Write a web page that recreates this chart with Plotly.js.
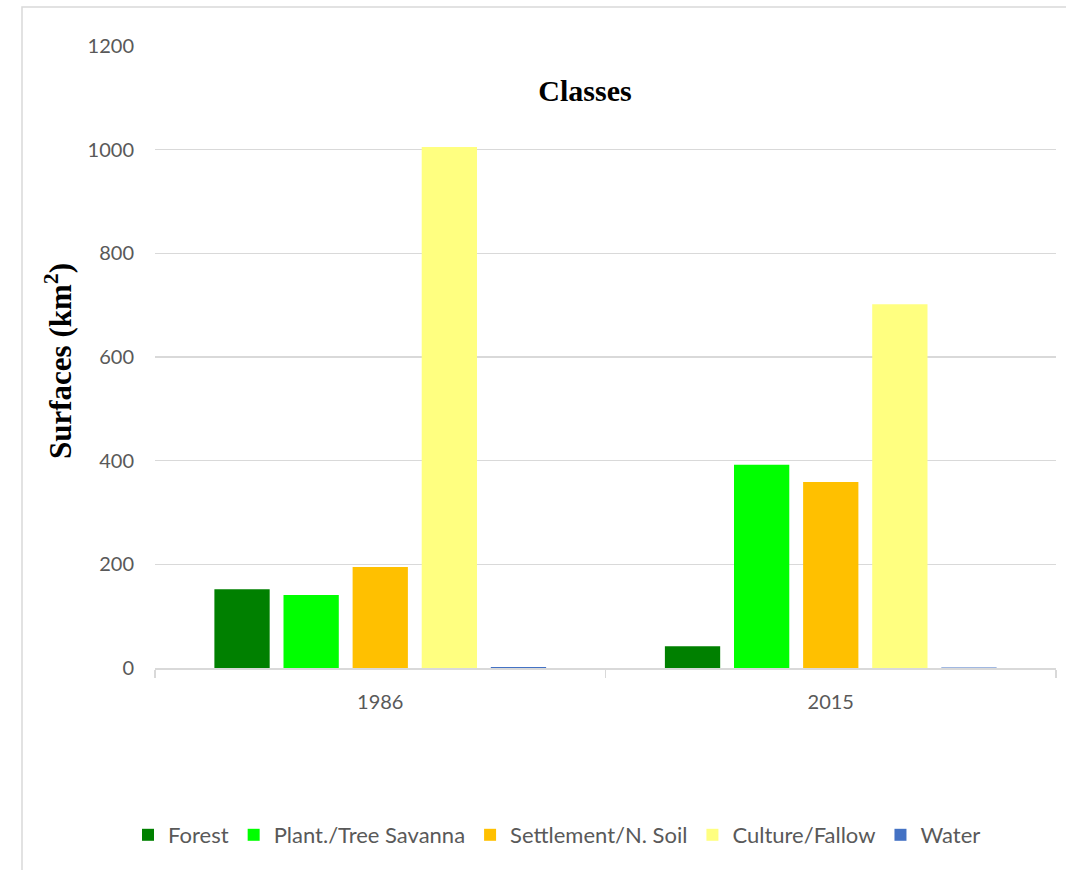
<!DOCTYPE html>
<html>
<head>
<meta charset="utf-8">
<script src="https://cdn.plot.ly/plotly-3.0.1.min.js"></script>
<style>
  html, body { margin: 0; padding: 0; background: #ffffff; }
  #chart { width: 1066px; height: 870px; }
</style>
</head>
<body>
<div id="chart"></div>
<script>
// ---- data ----
const years = ["1986", "2015"];
const seriesNames = ["Forest", "Plant./Tree Savanna", "Settlement/N. Soil", "Culture/Fallow", "Water"];
const forest = [152, 42];
const plantSavanna = [141, 392];
const settlement = [195, 359];
const culture = [1005, 702];
const water = [2, 1];
const seriesColors = ["#008000", "#00ff00", "#ffc000", "#ffff80", "#4472c4"];
const yTicks = [0, 200, 400, 600, 800, 1000, 1200];

const seriesValues = [forest, plantSavanna, settlement, culture, water];

const traces = seriesNames.map((name, i) => ({
  type: "bar",
  name: name,
  x: years,
  y: seriesValues[i],
  marker: { color: seriesColors[i], line: { width: 0 } },
  hoverinfo: "x+y+name"
}));

// plot area geometry (px) used for paper coordinates of decorations
const W = 1066, H = 870;
const mL = 155, mR = 10, mT = 46, mB = 202;
const pw = W - mL - mR, ph = H - mT - mB;
const px = v => (v - mL) / pw;
const py = v => 1 - (v - mT) / ph;

const tickFont = { family: "Lato, 'Open Sans', sans-serif", size: 20, color: "#595959" };

const layout = {
  width: W,
  height: H,
  margin: { l: mL, r: mR, t: mT, b: mB },
  paper_bgcolor: "#ffffff",
  plot_bgcolor: "#ffffff",
  barmode: "group",
  bargap: 0.233,
  bargroupgap: 0.2,
  showlegend: true,
  title: {
    text: "<b>Classes</b>",
    font: { family: "'Liberation Serif', 'Times New Roman', serif", size: 30, color: "#000000" },
    xref: "container", x: 585 / W, xanchor: "center",
    yref: "container", y: 1 - 90 / H, yanchor: "middle"
  },
  xaxis: {
    type: "category",
    showgrid: false,
    showline: true,
    linecolor: "#d9d9d9",
    linewidth: 1.5,
    ticks: "outside",
    tickson: "boundaries",
    ticklen: 8,
    tickcolor: "#d9d9d9",
    tickwidth: 1.5,
    tickfont: tickFont,
    ticklabelstandoff: 15,
    fixedrange: true
  },
  yaxis: {
    range: [0, 1200],
    tickvals: yTicks,
    ticktext: yTicks.map(String),
    showgrid: true,
    gridcolor: "#d9d9d9",
    gridwidth: 1.5,
    zeroline: false,
    showline: false,
    ticks: "",
    tickfont: tickFont,
    ticklabelstandoff: 20,
    fixedrange: true
  },
  legend: {
    orientation: "h",
    xref: "paper", x: px(557), xanchor: "center",
    yref: "paper", y: py(835), yanchor: "middle",
    font: { family: "Lato, 'Open Sans', sans-serif", size: 22, color: "#595959" },
    itemclick: false,
    itemdoubleclick: false,
    traceorder: "normal"
  },
  annotations: [
    {
      text: "<b>Surfaces (km<sup>2</sup>)</b>",
      xref: "paper", yref: "paper",
      x: px(58), y: py(361),
      xanchor: "center", yanchor: "middle",
      textangle: -90,
      showarrow: false,
      font: { family: "'Liberation Serif', 'Times New Roman', serif", size: 31, color: "#000000" }
    }
  ],
  shapes: [
    {
      type: "rect",
      xref: "paper", yref: "paper",
      x0: px(22), x1: px(1075),
      y0: py(880), y1: py(7),
      line: { color: "#d9d9d9", width: 1.5 },
      fillcolor: "rgba(0,0,0,0)",
      layer: "below"
    }
  ]
};

Plotly.newPlot("chart", traces, layout, { displayModeBar: false, staticPlot: true });
</script>
</body>
</html>
